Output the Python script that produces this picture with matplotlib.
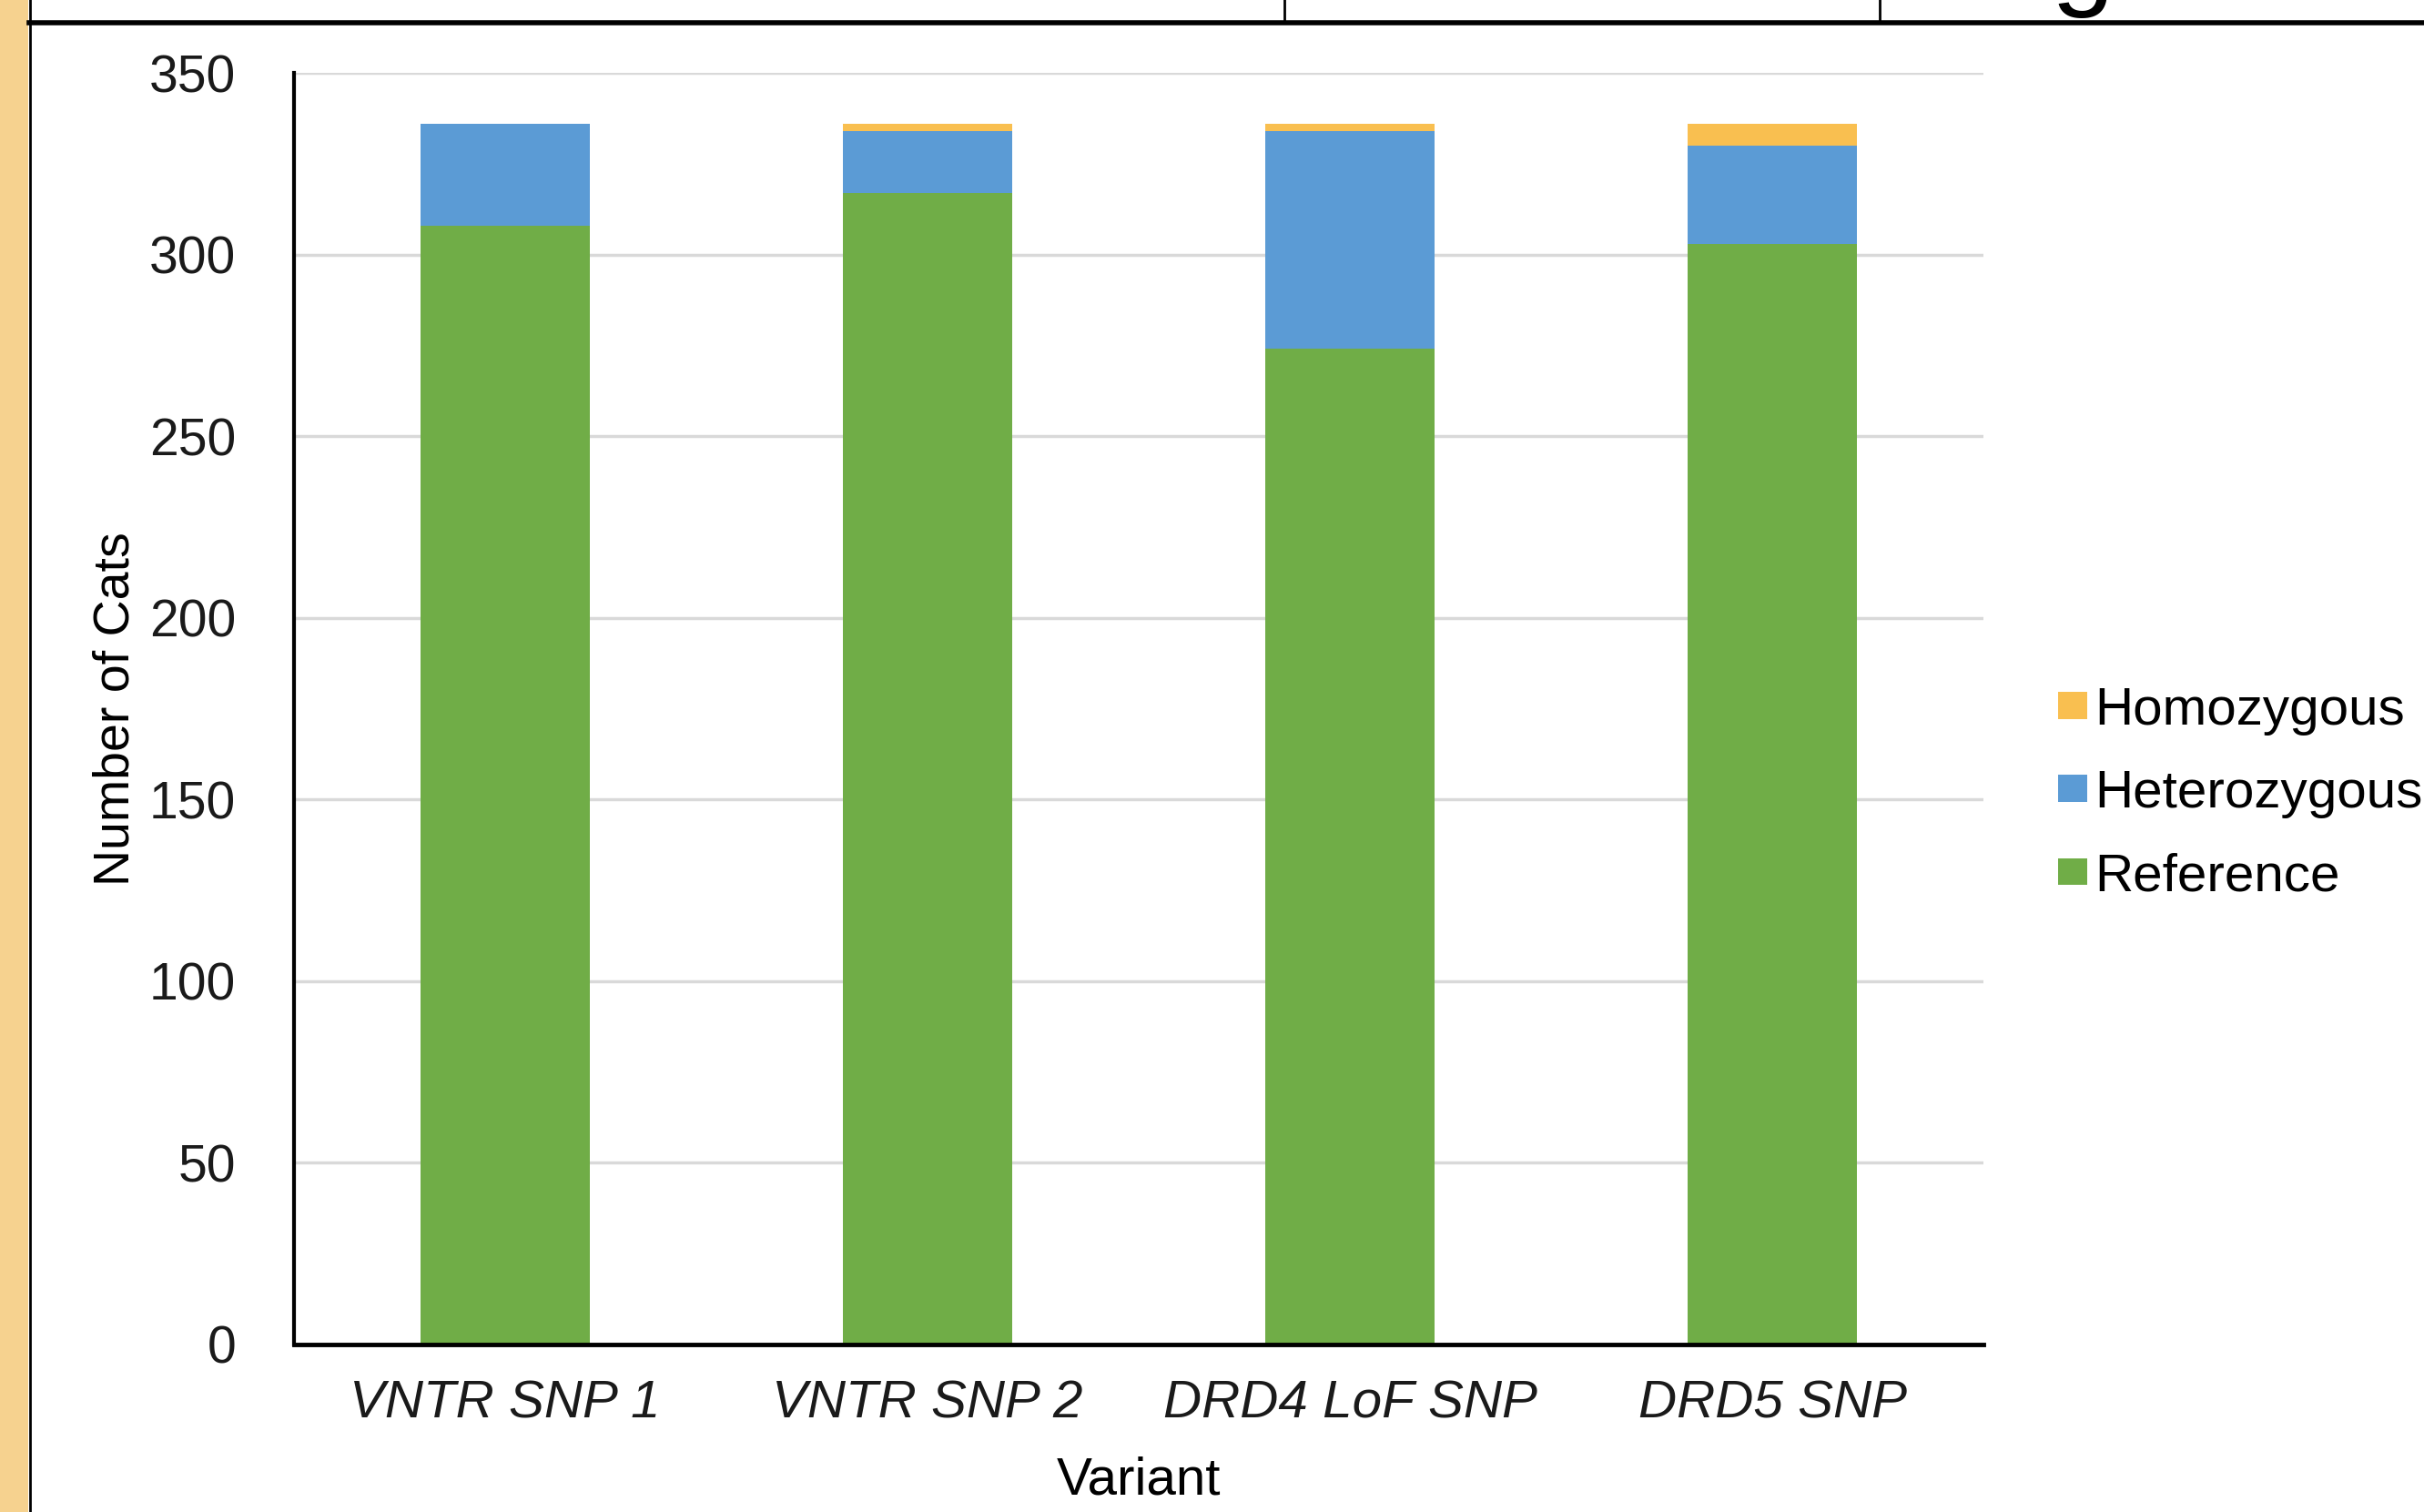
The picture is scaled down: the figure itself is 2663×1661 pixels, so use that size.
import matplotlib
matplotlib.use("Agg")
import matplotlib.pyplot as plt
from matplotlib.lines import Line2D
from matplotlib.patches import Rectangle

plt.rcParams["font.family"] = ["Liberation Sans", "DejaVu Sans"]

# -----------------------------
# Genotype counts per variant
# -----------------------------
variants = ["VNTR SNP 1", "VNTR SNP 2", "DRD4 LoF SNP", "DRD5 SNP"]
reference = [308, 317, 274, 303]
heterozygous = [28, 17, 60, 27]
homozygous = [0, 2, 2, 6]

series_names = ["Reference", "Heterozygous", "Homozygous"]
series_colors = ["#70AD47", "#5B9BD5", "#F9BF50"]

# header row of the table the chart sits under
header_cells = ["DRD5 SNP", "G/A", "Avg. Size"]

W, H = 2663, 1661
fig = plt.figure(figsize=(W / 100, H / 100), dpi=100)
fig.patch.set_facecolor("white")

ax = fig.add_axes([323 / W, 1 - 1477 / H, (2179 - 323) / W, (1477 - 80) / H])

x = range(len(variants))
bottom = [0] * len(variants)
for name, vals, col in zip(series_names, [reference, heterozygous, homozygous], series_colors):
    ax.bar(x, vals, width=0.40, bottom=bottom, color=col, label=name, zorder=3)
    bottom = [b + v for b, v in zip(bottom, vals)]

ax.set_xlim(-0.5, len(variants) - 0.5)
ax.set_ylim(0, 350)
ax.set_yticks(range(0, 351, 50))
ax.grid(axis="y", color="#D9D9D9", linewidth=2.5, zorder=0)
ax.set_axisbelow(True)

for side in ["top", "right"]:
    ax.spines[side].set_visible(False)
ax.spines["left"].set_linewidth(3)
ax.spines["bottom"].set_linewidth(3.5)
ax.spines["bottom"].set_zorder(4)

ax.tick_params(axis="y", length=0, labelsize=41, colors="#1a1a1a", pad=46)
ax.tick_params(axis="x", length=0, labelsize=42, colors="#1a1a1a", pad=28)
ax.set_xticks(list(x))
ax.set_xticklabels(variants, fontstyle="italic")

ax.set_xlabel("Variant", fontsize=42, va="center")
ax.xaxis.set_label_coords(0.5, -0.107)
ax.set_ylabel("Number of Cats", fontsize=40, va="center")
ax.yaxis.set_label_coords(-0.1056, 0.5)

# legend: top entry is the top of the stack
handles, labels = ax.get_legend_handles_labels()
leg = fig.legend(
    handles[::-1], labels[::-1],
    loc="center left", bbox_to_anchor=(2261 / W, 1 - 872 / H),
    frameon=False, fontsize=42, handlelength=0.55, handleheight=0.40,
    handletextpad=0.14, labelspacing=0.64, borderpad=0, borderaxespad=0,
)

# page decoration: side strip and header row
fig.add_artist(Rectangle((0, 0), 31 / W, 1, transform=fig.transFigure,
                         facecolor="#F6D28F", edgecolor="none"))
fig.add_artist(Line2D([32.5 / W, 32.5 / W], [0, 1], transform=fig.transFigure,
                      color="black", linewidth=2))
fig.add_artist(Line2D([32 / W, 1], [1 - 25 / H, 1 - 25 / H], transform=fig.transFigure,
                      color="black", linewidth=4))
for xs in [1411, 2065]:
    fig.add_artist(Line2D([xs / W, xs / W], [1 - 25 / H, 1], transform=fig.transFigure,
                          color="black", linewidth=2))
for txt, xs in zip(header_cells, [63, 1470, 2110]):
    fig.text(xs / W, 1 + 6 / H, txt, fontsize=90, va="baseline", ha="left", color="black")

fig.savefig("out.png", dpi=100)
